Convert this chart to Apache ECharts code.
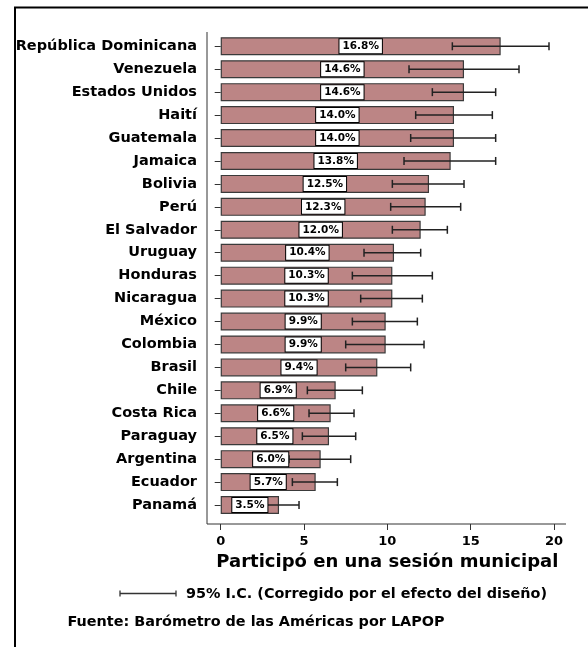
<!DOCTYPE html>
<html>
<head>
<meta charset="utf-8">
<script src="https://cdn.jsdelivr.net/npm/echarts@6/dist/echarts.min.js"></script>
<style>
html,body{margin:0;padding:0;background:#fff;}
#chart{width:588px;height:647px;}
</style>
</head>
<body>
<div id="chart"></div>
<script>
const categories = ['República Dominicana','Venezuela','Estados Unidos','Haití','Guatemala','Jamaica','Bolivia','Perú','El Salvador','Uruguay','Honduras','Nicaragua','México','Colombia','Brasil','Chile','Costa Rica','Paraguay','Argentina','Ecuador','Panamá'];
const values = [16.8,14.6,14.6,14.0,14.0,13.8,12.5,12.3,12.0,10.4,10.3,10.3,9.9,9.9,9.4,6.9,6.6,6.5,6.0,5.7,3.5];
const ciLower = [13.9,11.3,12.7,11.7,11.4,11.0,10.3,10.2,10.3,8.6,7.9,8.4,7.9,7.5,7.5,5.2,5.3,4.9,4.1,4.3,2.3];
const ciUpper = [19.7,17.9,16.5,16.3,16.5,16.5,14.6,14.4,13.6,12.0,12.7,12.1,11.8,12.2,11.4,8.5,8.0,8.1,7.8,7.0,4.7];
const xTickValues = [0,5,10,15,20];
const xAxisTitle = 'Participó en una sesión municipal';
const legendText = '95% I.C. (Corregido por el efecto del diseño)';
const sourceText = 'Fuente: Barómetro de las Américas por LAPOP';

const FONT = 'DejaVu Sans';
const chart = echarts.init(document.getElementById('chart'), null, {renderer:'canvas'});

const errData = categories.map((c,i)=>[ciLower[i], ciUpper[i], i]);

const option = {
  backgroundColor:'#fff',
  animation:false,
  grid:{left:220.7, right:34, top:34.8, bottom:130.5},
  xAxis:{
    type:'value', min:xTickValues[0], max:xTickValues[xTickValues.length-1], interval:5,
    offset:7.5,
    axisLine:{show:false},
    axisTick:{show:true, length:6, lineStyle:{color:'#333', width:1}},
    axisLabel:{fontFamily:FONT, fontWeight:'bold', fontSize:13, color:'#000', margin:11},
    splitLine:{show:false},
    name:xAxisTitle, nameLocation:'middle', nameGap:19,
    nameTextStyle:{fontFamily:FONT, fontWeight:'bold', fontSize:18, color:'#000'}
  },
  yAxis:{
    type:'category', inverse:true, data:categories,
    offset:13.7,
    axisLine:{show:false},
    axisTick:{show:true, alignWithLabel:true, length:6, lineStyle:{color:'#333', width:1}},
    axisLabel:{fontFamily:FONT, fontWeight:'bold', fontSize:14.5, color:'#000', margin:10}
  },
  series:[
    {
      type:'bar', data:values, barWidth:18, barGap:'-100%', z:2, silent:true,
      itemStyle:{color:'#BC8585', borderColor:'#3a3a3a', borderWidth:1.2}
    },
    {
      type:'custom', data:errData, z:3, silent:true,
      encode:{x:[0,1], y:2},
      renderItem:function(params, api){
        const p1 = api.coord([api.value(0), api.value(2)]);
        const p2 = api.coord([api.value(1), api.value(2)]);
        const h = 4;
        const st = {stroke:'#222', lineWidth:1.5};
        return {type:'group', children:[
          {type:'line', shape:{x1:p1[0], y1:p1[1], x2:p2[0], y2:p2[1]}, style:st},
          {type:'line', shape:{x1:p1[0], y1:p1[1]-h, x2:p1[0], y2:p1[1]+h}, style:st},
          {type:'line', shape:{x1:p2[0], y1:p2[1]-h, x2:p2[0], y2:p2[1]+h}, style:st}
        ]};
      }
    },
    {
      type:'bar', data:values, barWidth:18, barGap:'-100%', z:4, silent:true,
      itemStyle:{color:'rgba(0,0,0,0)'},
      label:{
        show:true, position:'inside',
        formatter:function(p){return p.value.toFixed(1)+'%';},
        fontFamily:FONT, fontWeight:'bold', fontSize:10.5, color:'#000',
        backgroundColor:'#fff', borderColor:'#000', borderWidth:1, padding:[2,3,1,3]
      }
    }
  ],
  graphic:[
    {type:'polyline', silent:true, shape:{points:[[15,660],[15,7.5],[600,7.5]]}, style:{stroke:'#000', lineWidth:2, fill:null}},
    {type:'line', silent:true, shape:{x1:207, y1:32, x2:207, y2:524}, style:{stroke:'#333', lineWidth:1}},
    {type:'line', silent:true, shape:{x1:207, y1:524, x2:566, y2:524}, style:{stroke:'#333', lineWidth:1}},
    {type:'line', silent:true, shape:{x1:120, y1:593.5, x2:176, y2:593.5}, style:{stroke:'#333', lineWidth:1.3}},
    {type:'line', silent:true, shape:{x1:120, y1:590.5, x2:120, y2:596.5}, style:{stroke:'#333', lineWidth:1.3}},
    {type:'line', silent:true, shape:{x1:176, y1:590.5, x2:176, y2:596.5}, style:{stroke:'#333', lineWidth:1.3}},
    {type:'text', silent:true, x:186, y:594, style:{text:legendText, fontFamily:FONT, fontWeight:'bold', fontSize:14.4, fill:'#000', verticalAlign:'middle', align:'left'}},
    {type:'text', silent:true, x:67.5, y:622, style:{text:sourceText, fontFamily:FONT, fontWeight:'bold', fontSize:14.4, fill:'#000', verticalAlign:'middle', align:'left'}}
  ]
};
chart.setOption(option);
</script>
</body>
</html>
